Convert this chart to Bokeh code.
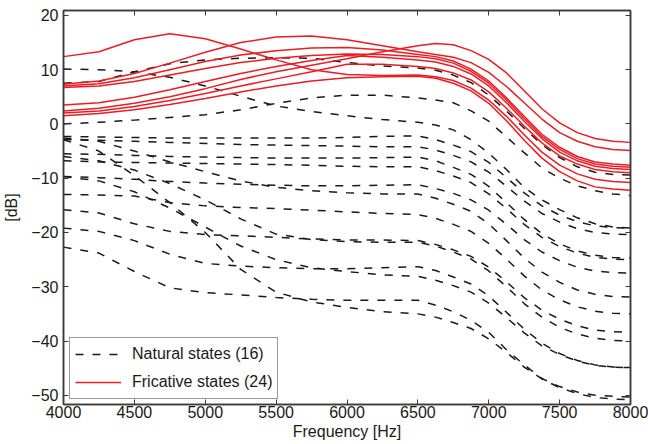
from bokeh.plotting import figure
from bokeh.models import Range1d, LinearAxis, FixedTicker, Legend, LegendItem
from bokeh.embed import file_html
from bokeh.resources import INLINE

# Frequency grid [Hz]
freq = [4000, 4250, 4500, 4750, 5000, 5250, 5500, 5750, 6000, 6250, 6500,
        6625, 6750, 6875, 7000, 7125, 7250, 7375, 7500, 7625, 7750, 7875, 8000]

# Natural states (dashed), dB
nat_01 = [7.5, 7.8, 9.6, 11.1, 11.8, 12.1, 12.2, 12.1, 11.3, 10.7, 10.3, 9.9, 9.0, 7.6, 5.3, 2.4, -0.8, -3.8, -6.2, -7.9, -8.9, -9.3, -9.4]
nat_02 = [10.1, 10.0, 9.6, 8.6, 7.0, 5.1, 3.3, 2.3, 1.5, 0.8, 0.3, -0.2, -1.1, -2.9, -5.4, -8.4, -11.7, -14.0, -15.8, -17.3, -18.4, -19.0, -19.2]
nat_03 = [0.0, 0.3, 0.7, 1.2, 1.7, 2.6, 3.8, 4.8, 5.3, 5.3, 4.8, 4.4, 3.9, 2.4, 0.5, -2.4, -5.3, -8.1, -10.0, -11.4, -12.3, -12.9, -13.2]
nat_04 = [-2.3, -2.4, -2.5, -2.6, -2.6, -2.6, -2.6, -2.6, -2.5, -2.3, -2.2, -2.9, -3.9, -5.1, -7.1, -9.9, -12.7, -15.1, -16.8, -18.0, -18.8, -19.1, -19.2]
nat_05 = [-2.9, -3.0, -3.2, -3.4, -3.6, -3.8, -3.9, -4.0, -4.1, -4.2, -4.2, -4.8, -5.8, -7.0, -8.9, -11.5, -14.2, -16.5, -18.1, -19.3, -20.0, -20.3, -20.4]
nat_06 = [-5.5, -5.6, -5.8, -6.0, -6.1, -6.2, -6.3, -6.3, -6.3, -6.2, -6.1, -6.8, -8.0, -9.3, -11.5, -14.5, -17.6, -20.2, -22.1, -23.4, -24.2, -24.6, -24.7]
nat_07 = [-6.8, -7.0, -7.1, -7.2, -7.3, -7.4, -7.5, -7.6, -7.8, -7.9, -7.9, -8.6, -9.6, -10.8, -12.9, -15.6, -18.5, -20.9, -22.6, -23.8, -24.6, -24.9, -25.0]
nat_08 = [-9.7, -9.9, -10.2, -10.6, -10.9, -11.1, -11.3, -11.4, -11.4, -11.3, -11.2, -11.9, -12.8, -14.0, -15.9, -18.5, -21.3, -23.6, -25.2, -26.4, -27.1, -27.4, -27.5]
nat_09 = [-2.6, -3.2, -5.0, -7.0, -8.8, -10.5, -11.7, -12.3, -12.7, -12.9, -12.9, -13.7, -14.8, -16.1, -18.4, -21.5, -24.7, -27.3, -29.2, -30.6, -31.4, -31.8, -31.9]
nat_10 = [-13.0, -13.1, -13.3, -14.5, -15.1, -15.4, -15.6, -15.9, -16.2, -16.5, -16.7, -17.4, -18.5, -19.8, -22.0, -24.9, -28.0, -30.6, -32.4, -33.7, -34.5, -34.9, -35.0]
nat_11 = [-15.8, -16.4, -18.4, -19.8, -20.4, -20.6, -20.9, -21.2, -21.4, -21.4, -21.5, -22.2, -23.2, -24.4, -26.4, -29.1, -32.0, -34.3, -36.0, -37.2, -38.0, -38.3, -38.4]
nat_12 = [-6.0, -6.8, -8.5, -11.0, -14.0, -17.5, -20.3, -21.3, -21.7, -21.8, -21.8, -22.5, -23.6, -24.9, -27.1, -30.0, -33.1, -35.6, -37.5, -38.7, -39.5, -39.9, -40.0]
nat_13 = [-19.2, -19.8, -21.5, -24.0, -25.7, -26.2, -26.5, -26.7, -26.7, -26.5, -26.3, -27.0, -28.2, -29.5, -31.7, -34.7, -37.8, -40.4, -42.3, -43.6, -44.4, -44.8, -44.9]
nat_14 = [-9.7, -10.5, -12.5, -15.5, -19.0, -22.5, -25.0, -26.5, -27.2, -27.8, -28.1, -28.8, -29.8, -31.0, -33.0, -35.7, -38.5, -40.9, -42.5, -43.7, -44.5, -44.8, -44.9]
nat_15 = [-22.7, -23.8, -27.2, -30.2, -31.1, -31.5, -32.0, -32.3, -32.5, -32.5, -32.5, -33.4, -34.6, -36.2, -38.4, -41.6, -44.4, -46.9, -48.4, -49.4, -50.0, -50.2, -50.3]
nat_16 = [-2.9, -5.0, -9.5, -14.5, -20.0, -26.8, -31.0, -32.8, -33.8, -34.6, -35.0, -35.6, -36.6, -37.7, -39.6, -42.1, -44.8, -47.0, -48.6, -49.7, -50.4, -50.7, -50.8]

# Fricative states (solid red), dB
fri_01 = [7.3, 7.9, 9.3, 11.2, 13.2, 15.0, 16.0, 16.2, 15.5, 14.4, 13.3, 12.8, 12.3, 11.3, 9.5, 6.9, 3.9, 0.9, -1.6, -3.2, -4.2, -4.7, -4.9]
fri_02 = [2.4, 2.9, 3.8, 5.0, 6.5, 8.2, 9.6, 10.8, 12.0, 13.3, 14.4, 14.8, 14.6, 13.5, 11.9, 9.4, 6.1, 2.8, 0.2, -1.6, -2.7, -3.2, -3.4]
fri_03 = [12.4, 13.3, 15.5, 16.6, 15.7, 13.8, 11.8, 10.0, 9.1, 8.9, 9.0, 8.7, 8.0, 6.6, 4.4, 1.4, -2.0, -5.2, -7.6, -9.2, -10.2, -10.6, -10.8]
fri_04 = [7.0, 7.4, 8.5, 10.0, 11.5, 12.7, 13.5, 14.0, 14.1, 13.6, 12.8, 12.4, 11.6, 10.1, 7.9, 4.8, 1.4, -1.9, -4.3, -6.0, -7.0, -7.4, -7.6]
fri_05 = [6.7, 7.0, 7.8, 9.0, 10.2, 11.3, 12.1, 12.6, 12.9, 12.8, 12.4, 12.0, 11.2, 9.7, 7.5, 4.4, 1.0, -2.3, -4.7, -6.4, -7.4, -7.8, -8.0]
fri_06 = [3.5, 3.9, 4.9, 6.3, 7.8, 9.3, 10.6, 11.7, 12.6, 12.3, 11.8, 11.4, 10.6, 9.2, 7.0, 3.9, 0.5, -2.7, -5.2, -6.8, -7.8, -8.2, -8.4]
fri_07 = [2.0, 2.4, 3.2, 4.3, 5.6, 7.0, 8.3, 9.6, 11.0, 11.0, 10.6, 10.2, 9.4, 8.1, 5.9, 2.9, -0.4, -3.5, -5.9, -7.4, -8.4, -8.8, -9.0]
fri_08 = [1.5, 1.9, 2.6, 3.6, 4.7, 5.9, 7.0, 7.9, 8.5, 8.7, 8.8, 8.4, 7.5, 6.1, 3.8, 0.6, -3.0, -6.3, -8.8, -10.5, -11.6, -12.0, -12.2]

natural = [nat_01, nat_02, nat_03, nat_04, nat_05, nat_06, nat_07, nat_08,
           nat_09, nat_10, nat_11, nat_12, nat_13, nat_14, nat_15, nat_16]
fricative = [fri_01, fri_02, fri_03, fri_04, fri_05, fri_06, fri_07, fri_08]

x_ticks = [4000, 4500, 5000, 5500, 6000, 6500, 7000, 7500, 8000]
y_ticks = [-50, -40, -30, -20, -10, 0, 10, 20]
legend_labels = ["Natural states (16)", "Fricative states (24)"]
x_title = "Frequency [Hz]"
y_title = "[dB]"

FONT = "Liberation Sans"
FRAME = "#3a3a3a"

p = figure(width=648, height=444,
           x_range=Range1d(4000, 8000), y_range=Range1d(-51.7, 20.9),
           output_backend="svg", toolbar_location=None,
           min_border_left=60, min_border_right=18,
           min_border_top=10, min_border_bottom=40)
p.grid.visible = False
p.outline_line_color = FRAME
p.outline_line_width = 1.5
p.background_fill_color = "white"

nat_renderers = []
for ys in natural:
    r = p.line(freq, ys, line_color="#1a1a1a", line_width=1.5, line_dash="8 9")
    nat_renderers.append(r)
fri_renderers = []
for ys in fricative:
    r = p.line(freq, ys, line_color="#ec1c24", line_width=1.5)
    fri_renderers.append(r)

top = LinearAxis()
right = LinearAxis()
p.add_layout(top, "above")
p.add_layout(right, "right")

p.xaxis.ticker = FixedTicker(ticks=x_ticks)
p.yaxis.ticker = FixedTicker(ticks=y_ticks)
for ax in p.xaxis + p.yaxis:
    ax.major_tick_in = 5
    ax.major_tick_out = 0
    ax.minor_tick_line_color = None
    ax.axis_line_color = FRAME
    ax.axis_line_width = 1.5
    ax.major_tick_line_color = FRAME
    ax.major_tick_line_width = 1
    ax.major_label_text_font = FONT
    ax.major_label_text_font_size = "16px"
    ax.major_label_text_color = "#1a1a1a"
    ax.axis_label_text_font = FONT
    ax.axis_label_text_font_size = "16px"
    ax.axis_label_text_font_style = "normal"
    ax.axis_label_text_color = "#1a1a1a"

for ax in (top, right):
    ax.major_label_text_font_size = "0px"
    ax.major_label_text_color = None
    ax.major_label_standoff = 0
    ax.axis_label = None

p.below[0].axis_label = x_title
p.below[0].major_label_standoff = 1
p.below[0].axis_label_standoff = 2
p.left[0].axis_label = y_title
p.left[0].major_label_standoff = 5
p.left[0].axis_label_standoff = 8

legend = Legend(items=[LegendItem(label=legend_labels[0], renderers=[nat_renderers[0]]),
                       LegendItem(label=legend_labels[1], renderers=[fri_renderers[0]])],
                location=(6, 5))
legend.margin = 0
legend.padding = 5
legend.spacing = 6
legend.glyph_width = 46
legend.glyph_height = 22
legend.label_height = 22
legend.label_standoff = 11
legend.label_text_font = FONT
legend.label_text_font_size = "16px"
legend.label_text_color = "#1a1a1a"
legend.border_line_color = "#333333"
legend.border_line_width = 1
legend.background_fill_alpha = 1
p.add_layout(legend)

open("out.html", "w").write(file_html(p, INLINE))
